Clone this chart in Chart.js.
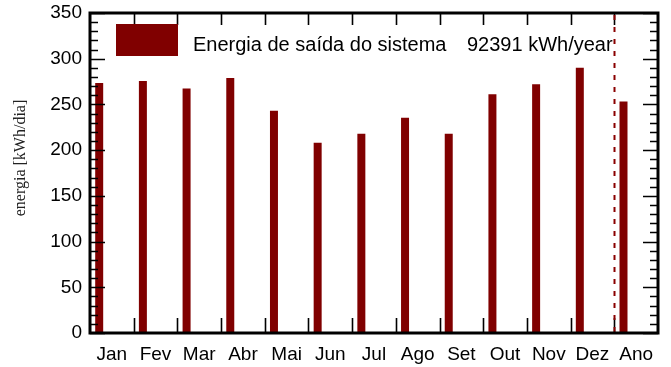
<!DOCTYPE html>
<html>
<head>
<meta charset="utf-8">
<script src="https://cdn.jsdelivr.net/npm/chart.js@4/dist/chart.umd.min.js"></script>
<style>
  html, body { margin: 0; padding: 0; background: #fff; }
  #wrap { width: 671px; height: 367px; position: relative; }
</style>
</head>
<body>
<div id="wrap"><canvas id="c" width="671" height="367"></canvas></div>
<script>
// Monthly energy output of the system (daily average, kWh/dia), plus the yearly mean
const months = ['Jan', 'Fev', 'Mar', 'Abr', 'Mai', 'Jun', 'Jul', 'Ago', 'Set', 'Out', 'Nov', 'Dez', 'Ano'];
const energyPerDay = [273.5, 275.5, 267.5, 279, 243, 208, 218, 235.5, 218, 261, 272, 290, 253.1];
const yearlyTotal = 92391;
const seriesLabel = 'Energia de saída do sistema';
const yearlyLabel = yearlyTotal + ' kWh/year';
const yTicks = [0, 50, 100, 150, 200, 250, 300, 350];
const yTitle = 'energia [kWh/dia]';

const BAR = '#800000';
const SANS = '"Liberation Sans", Arial, sans-serif';
const SERIF = '"Liberation Serif", "Times New Roman", serif';

// Frame, inward tick marks, separator before the yearly bar, legend and axis title
const framePlugin = {
  id: 'frame',
  afterDatasetsDraw(chart) {
    const { ctx, chartArea: a, scales } = chart;
    const x = scales.x, y = scales.y;
    ctx.save();
    ctx.strokeStyle = '#000';
    ctx.lineWidth = 1.6;
    // left / right ticks: minor every 10, major every 50
    for (let v = 0; v <= yTicks[yTicks.length - 1]; v += 10) {
      const py = Math.round(y.getPixelForValue(v)) + 0.5;
      const len = v % 50 === 0 ? 15 : 8;
      ctx.beginPath();
      ctx.moveTo(a.left, py); ctx.lineTo(a.left + len, py);
      ctx.moveTo(a.right, py); ctx.lineTo(a.right - len, py);
      ctx.stroke();
    }
    // top / bottom ticks between categories
    for (let i = 1; i < months.length; i++) {
      const px = Math.round((x.getPixelForValue(i - 1) + x.getPixelForValue(i)) / 2) + 0.5;
      ctx.beginPath();
      ctx.moveTo(px, a.bottom); ctx.lineTo(px, a.bottom - 15);
      ctx.moveTo(px, a.top); ctx.lineTo(px, a.top + 12);
      ctx.stroke();
    }
    // dashed separator before the yearly value
    const last = months.length - 1;
    const sx = Math.round((x.getPixelForValue(last - 1) + x.getPixelForValue(last)) / 2) + 0.5;
    ctx.strokeStyle = '#8a0000';
    ctx.lineWidth = 2;
    ctx.setLineDash([5, 7]);
    ctx.beginPath();
    ctx.moveTo(sx, a.top + 2); ctx.lineTo(sx, a.bottom);
    ctx.stroke();
    ctx.setLineDash([]);
    // frame
    ctx.strokeStyle = '#000';
    ctx.lineWidth = 3;
    ctx.strokeRect(a.left, a.top, a.right - a.left, a.bottom - a.top);
    // legend
    ctx.fillStyle = BAR;
    ctx.fillRect(a.left + 26, a.top + 11, 62, 32);
    ctx.fillStyle = '#000';
    ctx.font = '20px ' + SANS;
    ctx.textBaseline = 'alphabetic';
    ctx.textAlign = 'left';
    ctx.fillText(seriesLabel, a.left + 103, a.top + 38);
    ctx.fillText(yearlyLabel, a.left + 377, a.top + 38);
    // y-axis title
    ctx.font = '16px ' + SERIF;
    ctx.fillStyle = '#222';
    ctx.translate(21, 158);
    ctx.rotate(-Math.PI / 2);
    ctx.textAlign = 'center';
    ctx.textBaseline = 'middle';
    ctx.fillText(yTitle, 0, 0);
    ctx.restore();
  }
};

new Chart(document.getElementById('c'), {
  type: 'bar',
  data: {
    labels: months,
    datasets: [
      {
        label: seriesLabel,
        data: energyPerDay,
        backgroundColor: BAR,
        borderWidth: 0,
        categoryPercentage: 1.158,
        barPercentage: 0.316
      },
      {
        // empty companion slot: keeps each bar on the left side of its month
        label: '',
        data: months.map(() => null),
        backgroundColor: 'rgba(0,0,0,0)',
        categoryPercentage: 1.158,
        barPercentage: 0.316
      }
    ]
  },
  options: {
    responsive: false,
    animation: false,
    devicePixelRatio: 1,
    layout: { padding: { top: 13, right: 13, left: 0, bottom: 0 } },
    plugins: {
      legend: { display: false },
      tooltip: { enabled: false }
    },
    scales: {
      x: {
        type: 'category',
        offset: true,
        grid: { display: false, drawTicks: false },
        border: { display: false },
        ticks: {
          autoSkip: false,
          maxRotation: 0,
          padding: 10,
          color: '#000',
          font: { family: SANS, size: 19 }
        },
        afterFit(scale) {
          scale.height = 34;
          scale.paddingLeft = 0;
          scale.paddingRight = 0;
        }
      },
      y: {
        min: 0,
        max: 350,
        grid: { display: false, drawTicks: false },
        border: { display: false },
        afterBuildTicks(scale) { scale.ticks = yTicks.map(v => ({ value: v })); },
        ticks: {
          padding: 8,
          color: '#000',
          font: { family: SANS, size: 19 }
        },
        afterFit(scale) {
          scale.width = 90;
          scale.paddingTop = 0;
          scale.paddingBottom = 0;
        }
      }
    }
  },
  plugins: [framePlugin]
});
</script>
</body>
</html>
